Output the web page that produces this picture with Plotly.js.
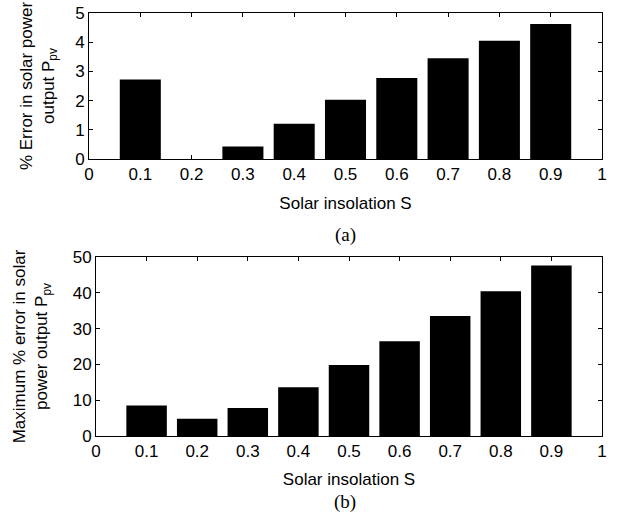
<!DOCTYPE html>
<html>
<head>
<meta charset="utf-8">
<script src="https://cdn.plot.ly/plotly-3.0.1.min.js"></script>
<style>html,body{margin:0;padding:0;background:#fff;}#chart{width:625px;height:525px;}</style>
</head>
<body>
<div id="chart"></div>
<script>
// Data
const insolation = [0.1, 0.2, 0.3, 0.4, 0.5, 0.6, 0.7, 0.8, 0.9];
const errorA = [2.72, 0, 0.43, 1.21, 2.03, 2.77, 3.45, 4.05, 4.62];
const maxErrorB = [8.5, 4.8, 7.8, 13.6, 19.8, 26.5, 33.5, 40.4, 47.6];
const xTickVals = [0, 0.1, 0.2, 0.3, 0.4, 0.5, 0.6, 0.7, 0.8, 0.9, 1];
const xTickText = ['0', '0.1', '0.2', '0.3', '0.4', '0.5', '0.6', '0.7', '0.8', '0.9', '1'];

const W = 625, H = 525;
const fontSans = 'Liberation Sans, Arial, sans-serif';
const fontSerif = 'Liberation Serif, Times New Roman, serif';
const FS = 17;

const traces = [
  {type: 'bar', x: insolation, y: errorA, width: 0.08, xaxis: 'x', yaxis: 'y',
   marker: {color: '#000', line: {width: 0}}, showlegend: false, hoverinfo: 'skip'},
  {type: 'bar', x: insolation, y: maxErrorB, width: 0.08, xaxis: 'x2', yaxis: 'y2',
   marker: {color: '#000', line: {width: 0}}, showlegend: false, hoverinfo: 'skip'}
];

function xax(domain, anchor, standoff) {
  return {
    domain: domain, anchor: anchor, range: [0, 1],
    tickmode: 'array', tickvals: xTickVals, ticktext: xTickText,
    ticks: 'inside', ticklen: 4, tickcolor: '#000', tickwidth: 1,
    showline: true, linecolor: '#000', linewidth: 1, mirror: 'ticks',
    showgrid: false, zeroline: false,
    tickfont: {family: fontSans, size: FS, color: '#000'},
    title: {text: 'Solar insolation S', font: {family: fontSans, size: FS, color: '#000'}, standoff: standoff},
    automargin: false
  };
}
function yax(domain, anchor, range, dtick, title, standoff) {
  return {
    domain: domain, anchor: anchor, range: range, dtick: dtick, tick0: 0,
    ticks: 'inside', ticklen: 4, tickcolor: '#000', tickwidth: 1,
    showline: true, linecolor: '#000', linewidth: 1, mirror: 'ticks',
    showgrid: false, zeroline: false,
    tickfont: {family: fontSans, size: FS, color: '#000'},
    title: {text: title, font: {family: fontSans, size: FS, color: '#000'}, standoff: standoff},
    automargin: false
  };
}

const layout = {
  width: W, height: H,
  margin: {l: 0, r: 0, t: 0, b: 0},
  paper_bgcolor: '#fff', plot_bgcolor: '#fff',
  bargap: 0.2,
  xaxis: xax([89 / W, 602 / W], 'y', 13),
  yaxis: yax([1 - 159 / H, 1 - 13 / H], 'x', [0, 5], 1, '% Error in solar power<br>output P<sub>pv</sub>', 16),
  xaxis2: xax([96 / W, 602 / W], 'y2', 12),
  yaxis2: yax([1 - 436 / H, 1 - 257 / H], 'x2', [0, 50], 10, 'Maximum % error in solar<br>power output P<sub>pv</sub>', 20),
  annotations: [
    {text: '(a)', xref: 'paper', yref: 'paper', x: 345 / W, y: 1 - 235 / H, showarrow: false,
     font: {family: fontSerif, size: 19, color: '#000'}, xanchor: 'center', yanchor: 'middle'},
    {text: '(b)', xref: 'paper', yref: 'paper', x: 345 / W, y: 1 - 502 / H, showarrow: false,
     font: {family: fontSerif, size: 19, color: '#000'}, xanchor: 'center', yanchor: 'middle'}
  ]
};

Plotly.newPlot('chart', traces, layout, {staticPlot: true, displayModeBar: false});
</script>
</body>
</html>
